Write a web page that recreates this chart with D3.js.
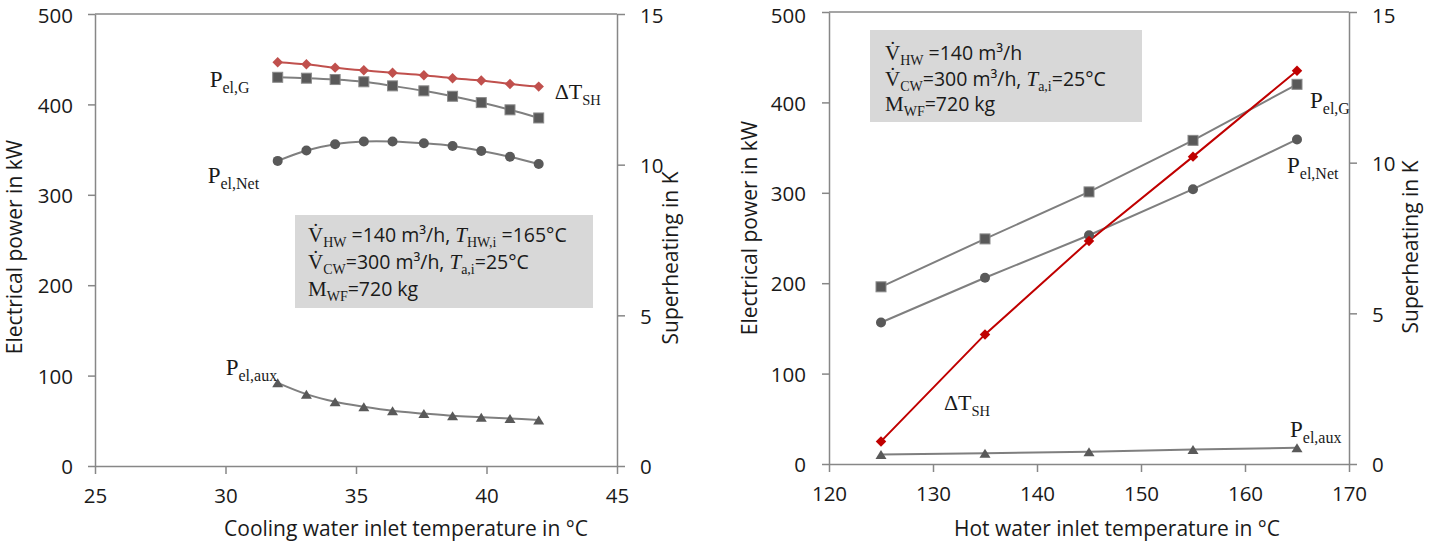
<!DOCTYPE html>
<html><head><meta charset="utf-8">
<script src="https://cdn.jsdelivr.net/npm/d3@7"></script>
<style>body{margin:0;background:#fff} svg{display:block}</style>
</head><body><svg id="c" width="1429" height="559"></svg>
<script>
// ---------- data ----------
const coolTemp   = [32, 33.1, 34.2, 35.3, 36.4, 37.6, 38.7, 39.8, 40.9, 42];
const coolPelG   = [430, 429, 427.5, 425, 420.5, 415, 409, 402, 394, 385];
const coolPelNet = [337.5, 349, 356, 359, 359, 357, 354, 348.5, 342, 334];
const coolPelAux = [92, 79.5, 71, 65.5, 61, 58, 55.5, 54, 52.5, 51];
const coolDTsh   = [13.4, 13.33, 13.22, 13.13, 13.05, 12.97, 12.87, 12.79, 12.68, 12.59];

const hotTemp   = [125, 135, 145, 155, 165];
const hotPelG   = [196, 249, 301, 358, 420];
const hotPelNet = [156.5, 206, 253, 304, 359];
const hotPelAux = [10.5, 12, 13.5, 16, 18];
const hotDTsh   = [0.75, 4.3, 7.4, 10.2, 13.05];

const powerTicks = [0, 100, 200, 300, 400, 500];
const superheatTicks = [0, 5, 10, 15];
const coolTicks = [25, 30, 35, 40, 45];
const hotTicks = [120, 130, 140, 150, 160, 170];

const coolTitle = "Cooling water inlet  temperature in °C";
const hotTitle = "Hot water inlet temperature in °C";
const powerTitle = "Electrical power in kW";
const superheatTitle = "Superheating in K";

// ---------- style ----------
const SANS = "'Open Sans', 'Noto Sans', sans-serif";
const SERIF = "'Liberation Serif', 'DejaVu Serif', serif";
const AXIS = "#878787", LINE = "#7f7f7f", MARK = "#595959", TXT = "#1a1a1a";
const TICK_FS = 20.5, TITLE_FS = 21;

const svg = d3.select("#c");

function triPath(w, h) { return `M0,${-h/2}L${w/2},${h/2}L${-w/2},${h/2}Z`; }

function richText(g, x, y, segs) {
  const t = g.append("text").attr("x", x).attr("y", y).attr("fill", TXT);
  let shift = 0;
  segs.forEach(s => {
    const ts = t.append("tspan").text(s.t)
      .attr("font-family", s.serif ? SERIF : SANS)
      .attr("font-size", s.size)
      .attr("font-style", s.italic ? "italic" : "normal");
    const target = s.sub ? (s.shift || 5) : 0;
    if (target !== shift) { ts.attr("dy", target - shift); shift = target; }
  });
  return t;
}
function seriesLabel(g, x, y, main, sub, big) {
  return richText(g, x, y, [
    {t: main, serif: true, size: big ? 23 : 22},
    {t: sub, serif: true, size: big ? 16 : 14.5, sub: true, shift: 6}
  ]);
}

function panel(cfg) {
  const g = svg.append("g");
  const x = d3.scaleLinear().domain(cfg.xDomain).range([cfg.x0, cfg.x1]);
  const y = d3.scaleLinear().domain([0, 500]).range([cfg.y0, cfg.y1]);
  const y2 = d3.scaleLinear().domain([0, 15]).range([cfg.y0, cfg.y1]);

  // top frame line
  g.append("line").attr("x1", cfg.x0).attr("x2", cfg.x1).attr("y1", cfg.y1).attr("y2", cfg.y1)
    .attr("stroke", AXIS).attr("stroke-width", 1.5);

  const styleAxis = sel => {
    sel.selectAll("path.domain").attr("stroke", AXIS).attr("stroke-width", 1.5);
    sel.selectAll(".tick line").attr("stroke", AXIS).attr("stroke-width", 1.5);
    sel.selectAll(".tick text").attr("fill", TXT).attr("font-family", SANS).attr("font-size", TICK_FS);
  };
  const vShift = (sel, topVal) => sel.selectAll(".tick text")
    .attr("dy", d => (d === topVal && cfg.topLabelDy) ? cfg.topLabelDy : "0.38em");
  g.append("g").attr("transform", `translate(${cfg.x0},0)`)
    .call(d3.axisLeft(y).tickValues(powerTicks).tickSize(7).tickSizeOuter(0).tickPadding(cfg.leftPad))
    .call(styleAxis).call(vShift, 500);
  g.append("g").attr("transform", `translate(${cfg.x1},0)`)
    .call(d3.axisRight(y2).tickValues(superheatTicks).tickSize(8).tickSizeOuter(0).tickPadding(15))
    .call(styleAxis).call(vShift, 15);
  g.append("g").attr("transform", `translate(0,${cfg.y0})`)
    .call(d3.axisBottom(x).tickValues(cfg.xTicks).tickSize(8).tickSizeOuter(0).tickPadding(14))
    .call(styleAxis);

  // axis titles
  g.append("text").attr("transform", `translate(${cfg.yTitleX},${cfg.yTitleY}) rotate(-90)`)
    .attr("text-anchor", "middle").attr("font-family", SANS).attr("font-size", TITLE_FS).attr("fill", TXT)
    .text(powerTitle);
  g.append("text").attr("transform", `translate(${cfg.y2TitleX},${cfg.y2TitleY}) rotate(-90)`)
    .attr("text-anchor", "middle").attr("font-family", SANS).attr("font-size", TITLE_FS).attr("fill", TXT)
    .text(superheatTitle);
  g.append("text").attr("x", cfg.xTitleX).attr("y", cfg.xTitleY)
    .attr("text-anchor", "middle").attr("font-family", SANS).attr("font-size", TITLE_FS).attr("fill", TXT)
    .text(cfg.xTitle);

  // info box
  g.append("rect").attr("x", cfg.box[0]).attr("y", cfg.box[1]).attr("width", cfg.box[2]).attr("height", cfg.box[3])
    .attr("fill", "#d8d8d8");
  cfg.boxLines.forEach((segs, i) => richText(g, cfg.box[0] + cfg.boxPadX, cfg.boxBase + i * cfg.boxStep, segs));

  const curve = cfg.smooth ? d3.curveCatmullRom.alpha(0.5) : d3.curveLinear;
  const mk = (vals, sc) => vals.map((v, i) => [x(cfg.xs[i]), sc(v)]);
  const drawLine = (pts, color) => g.append("path").attr("d", d3.line().curve(curve)(pts))
    .attr("fill", "none").attr("stroke", color).attr("stroke-width", 2);

  const ptsG = mk(cfg.pelG, y), ptsN = mk(cfg.pelNet, y), ptsA = mk(cfg.pelAux, y), ptsD = mk(cfg.dt, y2);
  drawLine(ptsG, LINE); drawLine(ptsN, LINE); drawLine(ptsA, LINE);
  drawLine(ptsD, cfg.red);

  const ms = cfg.markerSize;
  g.selectAll(null).data(ptsG).join("rect")
    .attr("x", d => d[0] - ms/2).attr("y", d => d[1] - ms/2).attr("width", ms).attr("height", ms)
    .attr("fill", MARK).attr("stroke", "#8a8a8a").attr("stroke-width", 1);
  g.selectAll(null).data(ptsN).join("circle")
    .attr("cx", d => d[0]).attr("cy", d => d[1]).attr("r", ms/2).attr("fill", MARK);
  g.selectAll(null).data(ptsA).join("path")
    .attr("transform", d => `translate(${d[0]},${d[1]})`).attr("d", triPath(ms + 1, ms - 1)).attr("fill", MARK);
  const ds = ms * 0.74;
  g.selectAll(null).data(ptsD).join("rect")
    .attr("transform", d => `translate(${d[0]},${d[1]}) rotate(45)`)
    .attr("x", -ds/2).attr("y", -ds/2).attr("width", ds).attr("height", ds).attr("fill", cfg.red);

  cfg.labels({g, x, y, ptsG, ptsN, ptsA, ptsD});
}

const boxSub = 14;
// ---------- left panel ----------
panel({
  xDomain: [25, 45], xTicks: coolTicks, x0: 95, x1: 617, y0: 466, y1: 14, leftPad: 15,
  xs: coolTemp, pelG: coolPelG, pelNet: coolPelNet, pelAux: coolPelAux, dt: coolDTsh,
  smooth: true, red: "#c0504d", markerSize: 10, topLabelDy: "8px",
  xTitle: coolTitle, xTitleX: 406, xTitleY: 536,
  yTitleX: 22, yTitleY: 247, y2TitleX: 678, y2TitleY: 258,
  box: [295, 215, 298, 93], boxPadX: 13, boxBase: 242, boxStep: 27,
  boxLines: [
    [{t: "V\u0307", serif: true, size: 21}, {t: "HW", serif: true, size: boxSub, sub: true},
     {t: " =140 m³/h, ", size: 19.5}, {t: "T", serif: true, italic: true, size: 21},
     {t: "HW,i", serif: true, size: boxSub, sub: true}, {t: " =165°C", size: 19.5}],
    [{t: "V\u0307", serif: true, size: 21}, {t: "CW", serif: true, size: boxSub, sub: true},
     {t: "=300 m³/h, ", size: 19.5}, {t: "T", serif: true, italic: true, size: 21},
     {t: "a,i", serif: true, size: boxSub, sub: true}, {t: "=25°C", size: 19.5}],
    [{t: "M", serif: true, size: 21}, {t: "WF", serif: true, size: boxSub, sub: true},
     {t: "=720 kg", size: 19.5}]
  ],
  labels: ({g, ptsG, ptsN, ptsA, ptsD}) => {
    seriesLabel(g, ptsG[0][0] - 68, ptsG[0][1] + 10, "P", "el,G", true);
    seriesLabel(g, ptsN[0][0] - 70, ptsN[0][1] + 22, "P", "el,Net", true);
    seriesLabel(g, ptsD[9][0] + 16, ptsD[9][1] + 12, "ΔT", "SH", false);
    seriesLabel(g, ptsA[0][0] - 52, ptsA[0][1] - 8, "P", "el,aux", true);
  }
});

// ---------- right panel ----------
panel({
  xDomain: [120, 170], xTicks: hotTicks, x0: 829, x1: 1349, y0: 464, y1: 12, leftPad: 16,
  xs: hotTemp, pelG: hotPelG, pelNet: hotPelNet, pelAux: hotPelAux, dt: hotDTsh,
  smooth: false, red: "#c00000", markerSize: 10, topLabelDy: "10px",
  xTitle: hotTitle, xTitleX: 1117, xTitleY: 536,
  yTitleX: 757, yTitleY: 228, y2TitleX: 1418, y2TitleY: 247,
  box: [870, 30, 272, 92], boxPadX: 15, boxBase: 60, boxStep: 25.5,
  boxLines: [
    [{t: "V\u0307", serif: true, size: 21}, {t: "HW", serif: true, size: boxSub, sub: true},
     {t: " =140 m³/h", size: 19.5}],
    [{t: "V\u0307", serif: true, size: 21}, {t: "CW", serif: true, size: boxSub, sub: true},
     {t: "=300 m³/h, ", size: 19.5}, {t: "T", serif: true, italic: true, size: 21},
     {t: "a,i", serif: true, size: boxSub, sub: true}, {t: "=25°C", size: 19.5}],
    [{t: "M", serif: true, size: 21}, {t: "WF", serif: true, size: boxSub, sub: true},
     {t: "=720 kg", size: 19.5}]
  ],
  labels: ({g, x, y, ptsG, ptsN, ptsA}) => {
    seriesLabel(g, ptsG[4][0] + 13, ptsG[4][1] + 24, "P", "el,G", true);
    seriesLabel(g, ptsN[4][0] - 10, ptsN[4][1] + 34, "P", "el,Net", true);
    seriesLabel(g, x(131.05), y(59.4), "ΔT", "SH", false);
    seriesLabel(g, ptsA[4][0] - 7, ptsA[4][1] - 11, "P", "el,aux", true);
  }
});
</script></body></html>
